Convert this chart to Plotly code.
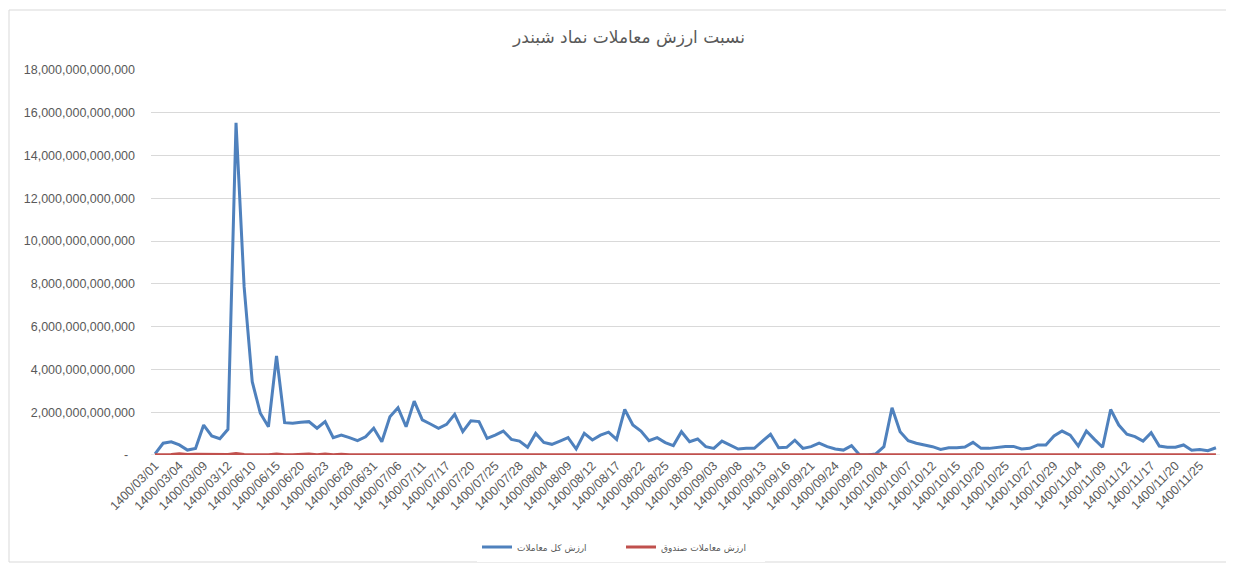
import plotly.graph_objects as go

title_text = "نسبت ارزش معاملات نماد شبندر"
series_total_name = "ارزش کل معاملات"
series_fund_name = "ارزش معاملات صندوق"

tick_labels = [
    "1400/03/01", "1400/03/04", "1400/03/09", "1400/03/12", "1400/06/10", "1400/06/15",
    "1400/06/20", "1400/06/23", "1400/06/28", "1400/06/31", "1400/07/06", "1400/07/11",
    "1400/07/17", "1400/07/20", "1400/07/25", "1400/07/28", "1400/08/04", "1400/08/09",
    "1400/08/12", "1400/08/17", "1400/08/22", "1400/08/25", "1400/08/30", "1400/09/03",
    "1400/09/08", "1400/09/13", "1400/09/16", "1400/09/21", "1400/09/24", "1400/09/29",
    "1400/10/04", "1400/10/07", "1400/10/12", "1400/10/15", "1400/10/20", "1400/10/25",
    "1400/10/27", "1400/10/29", "1400/11/04", "1400/11/09", "1400/11/12", "1400/11/17",
    "1400/11/20", "1400/11/25",
]

# total trade value, in trillions (1e12)
total_value_t = [
    0.05, 0.55, 0.62, 0.47, 0.23, 0.31, 1.40, 0.89, 0.76, 1.20,
    15.53, 7.86, 3.43, 1.95, 1.32, 4.63, 1.51, 1.48, 1.53, 1.56,
    1.25, 1.56, 0.81, 0.93, 0.81, 0.67, 0.85, 1.25, 0.62, 1.79,
    2.21, 1.32, 2.52, 1.64, 1.45, 1.25, 1.43, 1.90, 1.09, 1.60,
    1.56, 0.78, 0.93, 1.12, 0.73, 0.65, 0.36, 1.01, 0.59, 0.50,
    0.65, 0.81, 0.28, 1.01, 0.70, 0.93, 1.07, 0.73, 2.13, 1.40,
    1.12, 0.67, 0.81, 0.58, 0.44, 1.09, 0.62, 0.75, 0.39, 0.31,
    0.65, 0.47, 0.28, 0.31, 0.31, 0.65, 0.97, 0.34, 0.36, 0.69,
    0.31, 0.39, 0.55, 0.39, 0.28, 0.23, 0.44, 0.00, 0.00, 0.05,
    0.39, 2.21, 1.09, 0.67, 0.55, 0.47, 0.39, 0.26, 0.34, 0.34,
    0.37, 0.59, 0.31, 0.31, 0.36, 0.40, 0.40, 0.28, 0.31, 0.47,
    0.47, 0.89, 1.12, 0.93, 0.42, 1.12, 0.73, 0.36, 2.13, 1.40,
    0.97, 0.86, 0.65, 1.04, 0.42, 0.36, 0.36, 0.47, 0.22, 0.26,
    0.20, 0.34,
]

# fund trade value, in trillions (1e12)
fund_value_t = [
    0.01, 0.01, 0.02, 0.06, 0.02, 0.03, 0.03, 0.02, 0.02, 0.02,
    0.07, 0.02, 0.01, 0.01, 0.01, 0.05, 0.01, 0.01, 0.02, 0.05,
    0.01, 0.05, 0.01, 0.04, 0.01, 0.01, 0.02, 0.01, 0.01, 0.01,
    0.02, 0.01, 0.01, 0.01, 0.01, 0.01, 0.01, 0.03, 0.01, 0.01,
    0.01, 0.01, 0.01, 0.01, 0.01, 0.01, 0.01, 0.02, 0.01, 0.01,
    0.01, 0.01, 0.01, 0.02, 0.01, 0.01, 0.02, 0.01, 0.04, 0.01,
    0.01, 0.01, 0.02, 0.01, 0.01, 0.03, 0.01, 0.01, 0.01, 0.01,
    0.02, 0.01, 0.01, 0.01, 0.01, 0.01, 0.01, 0.01, 0.01, 0.01,
    0.01, 0.01, 0.01, 0.01, 0.01, 0.01, 0.01, 0.01, 0.01, 0.01,
    0.01, 0.02, 0.01, 0.01, 0.01, 0.01, 0.01, 0.01, 0.01, 0.01,
    0.01, 0.01, 0.01, 0.01, 0.01, 0.01, 0.01, 0.01, 0.01, 0.01,
    0.01, 0.02, 0.02, 0.01, 0.01, 0.02, 0.01, 0.01, 0.04, 0.02,
    0.01, 0.01, 0.01, 0.02, 0.01, 0.01, 0.01, 0.01, 0.01, 0.01,
    0.01, 0.01,
]

y_tick_values_t = [0, 2, 4, 6, 8, 10, 12, 14, 16, 18]
y_tick_labels = [
    "-\u00a0\u00a0", "2,000,000,000,000", "4,000,000,000,000", "6,000,000,000,000",
    "8,000,000,000,000", "10,000,000,000,000", "12,000,000,000,000",
    "14,000,000,000,000", "16,000,000,000,000", "18,000,000,000,000",
]

SCALE = 1e12
x = list(range(len(total_value_t)))
total_value = [v * SCALE for v in total_value_t]
fund_value = [v * SCALE for v in fund_value_t]

FONT = "Liberation Sans, DejaVu Sans, Arial, sans-serif"
AR_FONT = "DejaVu Sans, sans-serif"
TXT = "#595959"

# the page places the figure 8px from the top-left corner of the window
OFF = 8
W, H = 1234 - OFF, 565 - OFF
ML, MT = 151 - OFF, 70 - OFF
PLOT_RIGHT, PLOT_BOTTOM = 1220 - OFF, 455 - OFF
MR, MB = W - PLOT_RIGHT, H - PLOT_BOTTOM
PW, PH = W - ML - MR, H - MT - MB

fig = go.Figure()
fig.add_trace(go.Scatter(x=x, y=total_value, mode="lines", name=series_total_name,
                         line=dict(color="#4F81BD", width=3)))
fig.add_trace(go.Scatter(x=x, y=fund_value, mode="lines", name=series_fund_name,
                         line=dict(color="#C0504D", width=3)))

fig.update_layout(
    width=W, height=H,
    paper_bgcolor="white", plot_bgcolor="white",
    margin=dict(l=ML, r=MR, t=MT, b=MB, autoexpand=False),
    font=dict(family=FONT, color=TXT, size=12),
    title=dict(text=title_text, x=(629 - OFF) / W, xanchor="center",
               y=1 - (37 - OFF) / H, yanchor="middle",
               font=dict(size=17, color=TXT, family=AR_FONT)),
    showlegend=True,
    legend=dict(orientation="h", x=(477 - OFF - ML) / PW, xanchor="left",
                y=-(547 - OFF - MT - PH) / PH, yanchor="middle",
                font=dict(size=9, color=TXT, family=AR_FONT),
                entrywidth=99, entrywidthmode="pixels"),
    xaxis=dict(
        range=[-0.5, len(x) - 0.5],
        tickmode="array",
        tickvals=x[::3],
        ticktext=tick_labels,
        tickangle=-45,
        showgrid=False, zeroline=False,
        showline=False, ticks="",
        automargin=False,
        tickfont=dict(size=12.5, color=TXT, family=FONT),
    ),
    yaxis=dict(
        range=[0, 18 * SCALE],
        tickmode="array",
        tickvals=[v * SCALE for v in y_tick_values_t],
        ticktext=y_tick_labels,
        showgrid=True, gridcolor="#D9D9D9", gridwidth=1,
        zeroline=False, showline=False, ticks="",
        automargin=False,
        tickfont=dict(size=12.5, color=TXT, family=FONT),
        ticklabelstandoff=15,
    ),
)

fig.add_shape(type="line", xref="paper", yref="y", x0=0, x1=1, y0=0, y1=0,
              line=dict(color="#D9D9D9", width=1), layer="below")
fig.add_shape(type="rect", xref="paper", yref="paper",
              x0=-(ML - 1) / PW, x1=1 + (MR - 6) / PW,
              y0=-(MB - 3) / PH, y1=1 + (MT - 2) / PH,
              line=dict(color="#D9D9D9", width=1))

fig.write_html("out.html")
